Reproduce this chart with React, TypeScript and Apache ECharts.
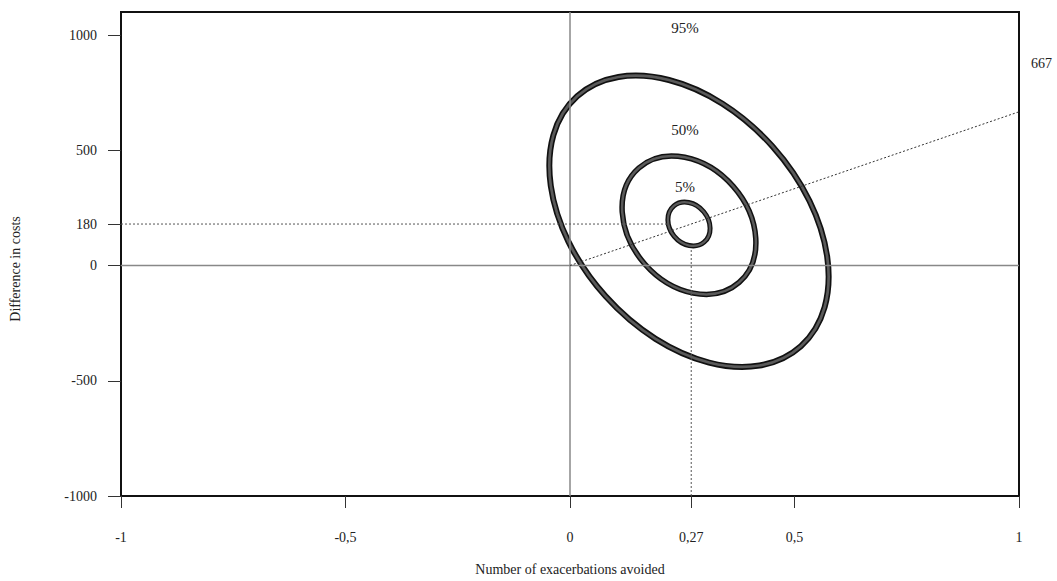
import React, { useEffect, useRef } from "react";
import * as echarts from "echarts";

// Axis ticks
const xTicks = [-1, -0.5, 0, 0.27, 0.5, 1];
const yTicks = [-1000, -500, 0, 180, 500, 1000];

// Point estimates
const meanEffect = 0.27;
const meanCost = 180;
const icer = 667;

// Confidence ellipses (centre, half-extent on x, half-extent on y, correlation)
const ellipseNames = ["5%", "50%", "95%"];
const ellipseCx = [0.265, 0.265, 0.265];
const ellipseCy = [180, 175, 192];
const ellipseHalfX = [0.047, 0.149, 0.311];
const ellipseHalfY = [95, 300, 632];
const ellipseRho = [-0.2, -0.25, -0.38];
const ellipseWidth = [5, 5.5, 6];

// Label anchor positions for ellipse names
const labelX = [0.256, 0.256, 0.256];
const labelY = [341, 586, 1031];

const FONT = '"Liberation Serif", "DejaVu Serif", serif';

export default function App() {
  const ref = useRef<HTMLDivElement>(null);
  useEffect(() => {
    if (!ref.current) return;
    const chart = echarts.init(ref.current, undefined, { renderer: "svg" });
    const fmt = (v: number) => String(v).replace(".", ",");
    const ellipseData = ellipseNames.map((n, i) => [
      ellipseCx[i],
      ellipseCy[i],
      ellipseHalfX[i],
      ellipseHalfY[i],
      ellipseRho[i],
      ellipseWidth[i],
    ]);
    chart.setOption({
      animation: false,
      grid: {
        left: 121,
        right: 38,
        top: 12,
        bottom: 82,
        show: true,
        borderColor: "#111",
        borderWidth: 2,
        backgroundColor: "transparent",
      },
      xAxis: {
        type: "value",
        min: -1,
        max: 1,
        axisLine: { show: false, onZero: false },
        splitLine: { show: false },
        axisTick: { show: true, customValues: xTicks, length: 12, lineStyle: { color: "#333", width: 1 } },
        axisLabel: {
          customValues: xTicks,
          formatter: (v: number) => fmt(v),
          margin: 34,
          color: "#222",
          fontFamily: FONT,
          fontSize: 14,
        },
        name: "Number of exacerbations avoided",
        nameLocation: "middle",
        nameGap: 66,
        nameTextStyle: { color: "#222", fontFamily: FONT, fontSize: 14 },
      },
      yAxis: {
        type: "value",
        min: -1000,
        max: 1100,
        axisLine: { show: false, onZero: false },
        splitLine: { show: false },
        axisTick: { show: true, customValues: yTicks, length: 13, lineStyle: { color: "#333", width: 1 } },
        axisLabel: {
          customValues: yTicks,
          formatter: (v: number) => fmt(v),
          margin: 24,
          color: "#222",
          fontFamily: FONT,
          fontSize: 14,
        },
      },
      graphic: [
        {
          type: "text",
          x: 15,
          y: 269,
          rotation: Math.PI / 2,
          style: {
            text: "Difference in costs",
            font: `14px ${FONT}`,
            fill: "#222",
            align: "center",
            verticalAlign: "middle",
            textAlign: "center",
            textVerticalAlign: "middle",
          },
        },
      ],
      series: [
        {
          type: "line",
          data: [[0, -1000], [0, 1100]],
          symbol: "none",
          lineStyle: { color: "#888", width: 1.5 },
          silent: true,
        },
        {
          type: "line",
          data: [[-1, 0], [1, 0]],
          symbol: "none",
          lineStyle: { color: "#888", width: 1.5 },
          silent: true,
        },
        {
          type: "line",
          data: [[-1, meanCost], [meanEffect - 0.05, meanCost]],
          symbol: "none",
          lineStyle: { color: "#555", width: 1, type: [2, 2] },
          silent: true,
        },
        {
          type: "line",
          data: [[meanEffect, -1000], [meanEffect, meanCost - 110]],
          symbol: "none",
          lineStyle: { color: "#555", width: 1, type: [2, 2] },
          silent: true,
        },
        {
          type: "line",
          data: [[0, 0], [1, icer]],
          symbol: "none",
          lineStyle: { color: "#333", width: 1, type: [2, 2] },
          silent: true,
          endLabel: {
            show: true,
            formatter: String(icer),
            offset: [4, -48],
            color: "#222",
            fontFamily: FONT,
            fontSize: 14,
          },
        },
        {
          type: "custom",
          data: ellipseData,
          encode: { x: 0, y: 1 },
          silent: true,
          renderItem: (params: any, api: any) => {
            const c = api.coord([api.value(0), api.value(1)]);
            const sx = api.size([api.value(2), 0])[0];
            const sy = api.size([0, api.value(3)])[1];
            const rho = api.value(4);
            const w = api.value(5);
            const xx = sx * sx;
            const yy = sy * sy;
            const xy = -rho * sx * sy;
            const m = (xx + yy) / 2;
            const d = Math.sqrt(((xx - yy) / 2) ** 2 + xy * xy);
            const a = Math.sqrt(m + d);
            const b = Math.sqrt(Math.max(m - d, 0));
            const th = 0.5 * Math.atan2(2 * xy, xx - yy);
            const base = { x: c[0], y: c[1], rotation: -th, shape: { cx: 0, cy: 0, rx: a, ry: b } };
            return {
              type: "group",
              children: [
                { type: "ellipse", ...base, style: { fill: "none", stroke: "#111", lineWidth: w } },
                { type: "ellipse", ...base, style: { fill: "none", stroke: "#5a5a5a", lineWidth: w * 0.45 } },
              ],
            };
          },
        },
        {
          type: "scatter",
          data: ellipseNames.map((n, i) => ({ value: [labelX[i], labelY[i]], name: n })),
          symbolSize: 0,
          silent: true,
          itemStyle: { opacity: 1 },
          label: {
            show: true,
            position: "inside",
            formatter: (p: any) => p.name,
            color: "#222",
            opacity: 1,
            fontFamily: FONT,
            fontSize: 15,
          },
        },
      ],
    });
    return () => chart.dispose();
  }, []);
  return (
    <div
      ref={ref}
      style={{ position: "absolute", left: 0, top: 0, width: 1057, height: 581, background: "#fff" }}
    />
  );
}
